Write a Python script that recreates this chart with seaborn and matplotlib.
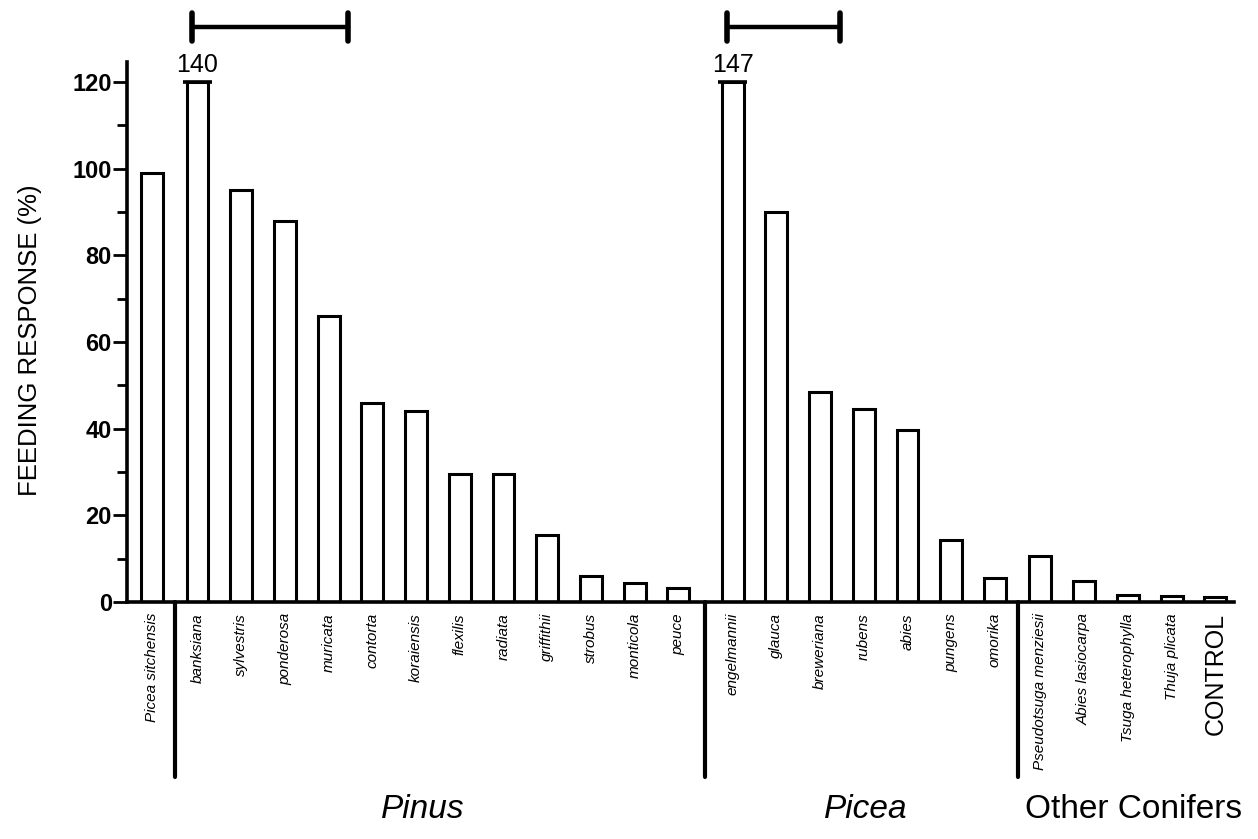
import numpy as np
import pandas as pd
import matplotlib
matplotlib.use("Agg")
import matplotlib.pyplot as plt
import seaborn as sns

species = ["Picea sitchensis", "banksiana", "sylvestris", "ponderosa", "muricata",
           "contorta", "koraiensis", "flexilis", "radiata", "griffithii", "strobus",
           "monticola", "peuce", "engelmannii", "glauca", "breweriana", "rubens",
           "abies", "pungens", "omorika", "Pseudotsuga menziesii", "Abies lasiocarpa",
           "Tsuga heterophylla", "Thuja plicata", "CONTROL"]
group_id = [0] + [1] * 12 + [2] * 7 + [3] * 5
response = [99, 140, 95, 88, 66, 46, 44, 29.5, 29.5, 15.5, 6.0, 4.3, 3.2,
            147, 90, 48.5, 44.5, 39.7, 14.3, 5.5,
            10.5, 4.9, 1.6, 1.4, 1.1]
group_names = ["Pinus", "Picea", "Other Conifers"]
y_ticks = [0, 20, 40, 60, 80, 100, 120]
brackets = [(1, 4), (13, 15)]  # indices of bars spanned by the top brackets
y_cap = 120

# layout helpers (small extra spacing between groups)
group_gap = [0.0, 0.04, 0.28, 0.32]
pos = np.arange(len(species)) + np.array([group_gap[g] for g in group_id])

df = pd.DataFrame({"species": species, "pos": pos, "response": response})
df["shown"] = df["response"].clip(upper=y_cap)

sns.set_theme(style="ticks")
plt.rcParams["font.family"] = ["Liberation Sans", "DejaVu Sans"]
for k in ("text.color", "axes.labelcolor", "xtick.color", "ytick.color", "axes.edgecolor"):
    plt.rcParams[k] = "black"

fig = plt.figure(figsize=(12.58, 8.39), dpi=100)
ax = fig.add_axes([0.101, 0.2825, 0.880, 0.6435])

sns.barplot(data=df, x="pos", y="shown", native_scale=True, width=0.5,
            color="white", saturation=1, edgecolor="black", linewidth=2.2,
            errorbar=None, ax=ax)

ax.set_xlim(pos[0] - 0.57, pos[-1] + 0.43)
ax.set_ylim(0, 124.6)
ax.set_yticks(y_ticks)
ax.set_yticks(np.arange(10, 121, 20), minor=True)
ax.tick_params(axis="y", which="major", length=10, width=2, labelsize=17, pad=1, color="black")
ax.tick_params(axis="y", which="minor", length=7, width=2, color="black")
for lab in ax.get_yticklabels():
    lab.set_fontweight("bold")

ax.set_xticks(pos)
ax.set_xticklabels(species, rotation=90, va="top", ha="center")
ax.tick_params(axis="x", length=0, pad=8)
for lab in ax.get_xticklabels():
    if lab.get_text() == "CONTROL":
        lab.set_fontsize(18)
    else:
        lab.set_fontsize(11)
        lab.set_fontstyle("italic")

ax.set_xlabel("")
ax.set_ylabel("FEEDING RESPONSE (%)", fontsize=18.5)
ax.yaxis.set_label_coords(-0.077, 0.485)

sns.despine(ax=ax)
for side in ("left", "bottom"):
    ax.spines[side].set_linewidth(2.6)
    ax.spines[side].set_color("black")

# truncated bars: caps and true values
for p, v in zip(pos, response):
    if v > y_cap:
        ax.plot([p - 0.33, p + 0.33], [y_cap, y_cap], color="black", lw=2.6,
                clip_on=False, solid_capstyle="butt")
        ax.text(p, y_cap + 1.2, f"{v:g}", ha="center", va="bottom", fontsize=18)

# brackets above
for a, b in brackets:
    x0, x1 = pos[a] - 0.12, pos[b] + 0.45
    yb = 132.7
    ax.plot([x0, x1], [yb, yb], color="black", lw=3.2, clip_on=False)
    for xx in (x0, x1):
        ax.plot([xx, xx], [yb - 3.2, yb + 3.2], color="black", lw=4, clip_on=False,
                solid_capstyle="round")

# group separators below axis
for i in range(1, len(species)):
    if group_id[i] != group_id[i - 1]:
        xs = (pos[i] + pos[i - 1]) / 2
        ax.plot([xs, xs], [0, -40.5], color="black", lw=3, clip_on=False)

# group labels
fig.text(423 / 1258, 1 - 810 / 839, group_names[0], fontsize=24, style="italic",
         ha="center", va="center")
fig.text(866 / 1258, 1 - 810 / 839, group_names[1], fontsize=24, style="italic",
         ha="center", va="center")
fig.text(1134 / 1258, 1 - 810 / 839, group_names[2], fontsize=24,
         ha="center", va="center")

fig.savefig("out.png", dpi=100, facecolor="white")
